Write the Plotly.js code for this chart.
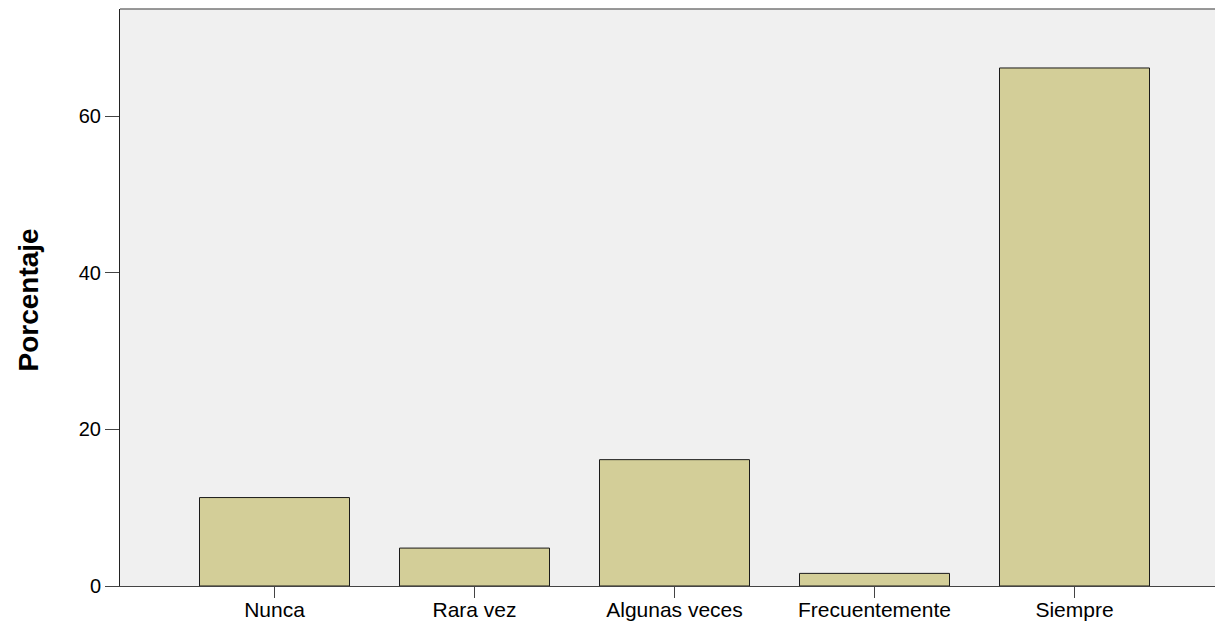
<!DOCTYPE html>
<html>
<head>
<meta charset="utf-8">
<script src="https://cdn.plot.ly/plotly-3.0.1.min.js"></script>
<style>html,body{margin:0;padding:0;background:#fff;}#chart{width:1215px;height:623px;}</style>
</head>
<body>
<div id="chart"></div>
<script>
const categories = ["Nunca", "Rara vez", "Algunas veces", "Frecuentemente", "Siempre"];
const percentages = [11.29, 4.84, 16.13, 1.61, 66.13];
const yTickValues = [0, 20, 40, 60];
const yAxisTitle = "Porcentaje";

const trace = {
  type: "bar",
  x: categories,
  y: percentages,
  width: 0.75,
  marker: { color: "#d3ce98", line: { color: "#1a1a1a", width: 1 } },
  hoverinfo: "x+y"
};

const layout = {
  width: 1215,
  height: 623,
  margin: { l: 120, r: 0, t: 9, b: 37 },
  paper_bgcolor: "#ffffff",
  plot_bgcolor: "#f0f0f0",
  font: { family: "Arial, 'Liberation Sans', sans-serif", size: 20, color: "#000" },
  showlegend: false,
  xaxis: {
    type: "category",
    range: [-0.7725, 4.7025],
    showgrid: false,
    zeroline: false,
    showline: true,
    linecolor: "#444",
    linewidth: 1,
    ticks: "outside",
    ticklen: 11,
    tickcolor: "#444",
    tickfont: { size: 21 },
    ticklabelstandoff: -6,
    fixedrange: true
  },
  yaxis: {
    range: [0, 73.66],
    tickvals: yTickValues,
    ticktext: yTickValues.map(String),
    showgrid: false,
    zeroline: false,
    showline: true,
    linecolor: "#222",
    linewidth: 1,
    ticks: "outside",
    ticklen: 14,
    tickcolor: "#444",
    tickfont: { size: 20 },
    fixedrange: true
  },
  shapes: [
    { type: "line", xref: "paper", yref: "paper", x0: 0, x1: 1, y0: 1, y1: 1, line: { color: "#777", width: 1.5 } }
  ],
  annotations: [
    {
      text: "<b>" + yAxisTitle + "</b>",
      xref: "paper", yref: "paper", x: 0, y: 0.5,
      xanchor: "center", yanchor: "middle",
      xshift: -92, yshift: -3, textangle: -90, showarrow: false,
      font: { size: 28, color: "#000" }
    }
  ]
};

Plotly.newPlot("chart", [trace], layout, { displayModeBar: false, staticPlot: true });
</script>
</body>
</html>
